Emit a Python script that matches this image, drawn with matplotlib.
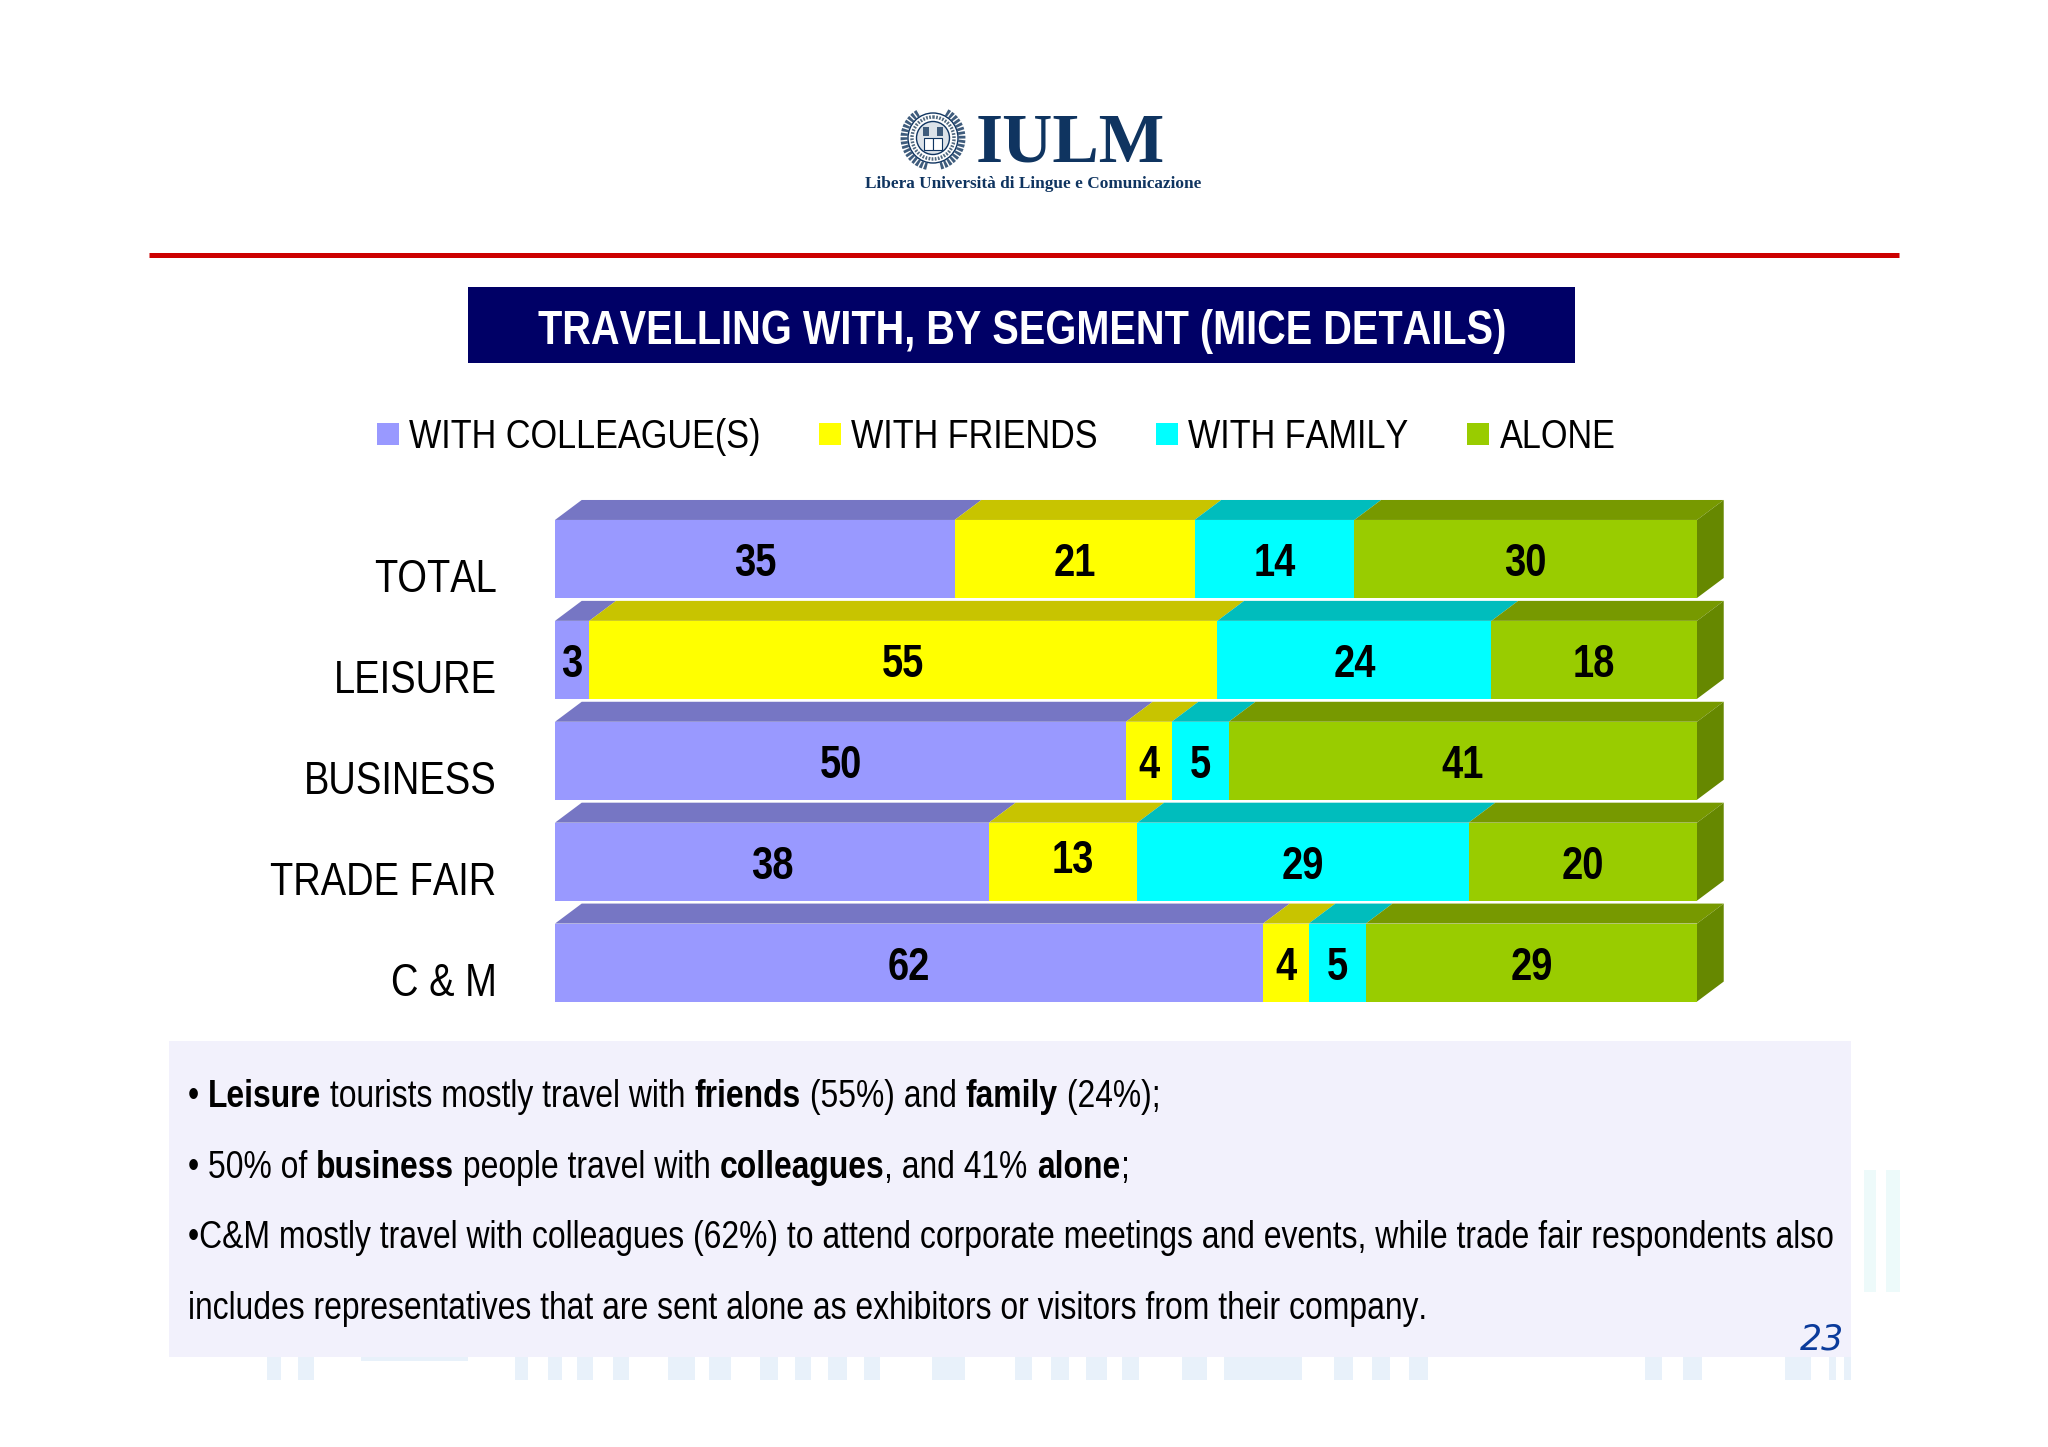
import numpy as np
import matplotlib
matplotlib.use("Agg")
import matplotlib.pyplot as plt
from matplotlib import font_manager as fm
from matplotlib.lines import Line2D
from matplotlib.patches import Arc, Circle, Polygon, Rectangle
from matplotlib.transforms import ScaledTranslation
from fontTools.ttLib import TTFont


# no Arial Narrow here, so squeeze Liberation Sans into a narrow copy
def make_narrow(weight, out, squeeze=0.83):
    path = fm.findfont(fm.FontProperties(family='Liberation Sans', weight=weight))
    font = TTFont(path)
    glyf, hmtx = font['glyf'], font['hmtx']
    for name in font.getGlyphOrder():
        g = glyf[name]
        adv, lsb = hmtx[name]
        if g.isComposite():
            for c in g.components:
                c.x = round(c.x * squeeze)
        elif g.numberOfContours > 0:
            g.coordinates.scale((squeeze, 1))
            g.coordinates.toInt()
            g.program.fromBytecode(b'')
        g.recalcBounds(glyf)
        hmtx[name] = (round(adv * squeeze), round(lsb * squeeze))
    for tag in ('fpgm', 'prep', 'cvt ', 'kern', 'hdmx', 'VDMX', 'LTSH'):
        if tag in font:
            del font[tag]
    for rec in font['name'].names:
        if rec.nameID in (1, 16):
            rec.string = 'Slide Narrow'
        elif rec.nameID == 4:
            rec.string = 'Slide Narrow ' + weight
        elif rec.nameID == 6:
            rec.string = 'SlideNarrow-' + weight
    font.save(out)
    fm.fontManager.addfont(out)


make_narrow('normal', 'narrow_regular.ttf')
make_narrow('bold', 'narrow_bold.ttf')
plt.rcParams['font.family'] = ['Slide Narrow', 'Liberation Sans']

segments = ['TOTAL', 'LEISURE', 'BUSINESS', 'TRADE FAIR', 'C & M']
series_names = ['WITH COLLEAGUE(S)', 'WITH FRIENDS', 'WITH FAMILY', 'ALONE']
colleagues = [35, 3, 50, 38, 62]
friends = [21, 55, 4, 13, 4]
family = [14, 24, 5, 29, 5]
alone = [30, 18, 41, 20, 29]

front_colors = ['#9999FF', '#FFFF00', '#00FFFF', '#99CC00']
top_colors = ['#7676C4', '#C8C400', '#00BDBD', '#779900']
side_color = '#668800'

notes = [
    [('• ', 0), ('Leisure', 1), (' tourists mostly travel with ', 0), ('friends', 1),
     (' (55%) and ', 0), ('family', 1), (' (24%);', 0)],
    [('• 50% of ', 0), ('business', 1), (' people travel with ', 0), ('colleagues', 1),
     (', and 41% ', 0), ('alone', 1), (';', 0)],
    [('•C&M mostly travel with colleagues (62%) to attend corporate meetings and events, '
      'while trade fair respondents also', 0)],
    [('includes representatives that are sent alone as exhibitors or visitors from their company.', 0)],
]
note_y = [1093, 1164, 1234, 1305]

W, H = 2048, 1447
fig = plt.figure(figsize=(W / 100, H / 100), dpi=100, facecolor='white')

# page furniture, drawn in pixel coordinates
bg = fig.add_axes([0, 0, 1, 1])
bg.set_xlim(0, W)
bg.set_ylim(H, 0)
bg.axis('off')

faint_bottom = [(267, 281), (298, 314), (515, 528), (548, 562), (577, 593), (613, 629),
                (668, 695), (709, 731), (760, 778), (795, 811), (828, 847), (864, 880),
                (932, 965), (1015, 1032), (1051, 1069), (1086, 1107), (1122, 1139),
                (1182, 1207), (1224, 1302), (1334, 1353), (1372, 1390), (1409, 1428),
                (1645, 1662), (1683, 1702), (1785, 1811), (1829, 1836), (1844, 1851)]
for x0, x1 in faint_bottom:
    bg.add_patch(Rectangle((x0, 1355), x1 - x0, 25, fc='#E8F1FA', ec='none'))
bg.add_patch(Rectangle((361, 1355), 107, 6, fc='#E8F1FA', ec='none'))
for x0, x1 in [(1864, 1876), (1886, 1900)]:
    bg.add_patch(Rectangle((x0, 1170), x1 - x0, 122, fc='#EDFAFA', ec='none'))

bg.add_patch(Rectangle((169, 1041), 1682, 316, fc='#F2F1FC', ec='none'))
bg.plot([149, 1899], [255, 255], color='#CC0000', lw=3.6, solid_capstyle='butt')
bg.add_patch(Rectangle((468, 287), 1107, 76, fc='#000066', ec='none'))
bg.text(1022, 331, 'TRAVELLING WITH, BY SEGMENT (MICE DETAILS)', color='white',
        fontsize=34.5, fontweight='bold', ha='center', va='center')

# logo
navy = '#0F3460'
bg.text(976, 145, 'IULM', color=navy, fontsize=50, fontweight='bold',
        family='Liberation Serif', ha='left', va='center')
bg.text(1033, 184, 'Libera Università di Lingue e Comunicazione', color=navy, fontsize=12.4,
        fontweight='bold', family='Liberation Serif', ha='center', va='center')
for a0, a1 in [(-62, 78), (102, 242)]:
    bg.add_patch(Arc((933, 138), 58, 58, theta1=a0, theta2=a1, ec='#3F5C7C', lw=5,
                     ls=(0, (0.4, 0.2))))
bg.add_patch(Circle((933, 138), 25, fc='white', ec=navy, lw=1))
bg.add_patch(Circle((933, 138), 21, fc='none', ec='#50687F', lw=2.5, ls=(0, (0.5, 0.4))))
bg.add_patch(Circle((933, 138), 16.5, fc='#DDE3E9', ec=navy, lw=1))
bg.add_patch(Rectangle((924, 138), 9, 12, fc='white', ec=navy, lw=0.8))
bg.add_patch(Rectangle((933, 138), 9, 12, fc='white', ec=navy, lw=0.8))
bg.add_patch(Rectangle((923, 127), 6, 9, fc='#3F5C7C', ec='none'))
bg.add_patch(Rectangle((937, 127), 6, 9, fc='#3F5C7C', ec='none'))

bg.text(1844, 1340, '23', color='#0B3B9B', fontsize=25, style='italic',
        family='DejaVu Sans', ha='right', va='center')

# summary lines, regular and bold runs placed one after the other
renderer = fig.canvas.get_renderer()
for runs, y in zip(notes, note_y):
    x = 188
    for txt, is_bold in runs:
        t = bg.text(x, y, txt, fontsize=27.6, fontweight='bold' if is_bold else 'normal',
                    color='black', ha='left', va='center_baseline')
        # trailing spaces are not measured reliably, so measure up to a marker
        t.set_text(txt + '|')
        with_bar = t.get_window_extent(renderer).width
        t.set_text('|')
        bar = t.get_window_extent(renderer).width
        t.set_text(txt)
        x += with_bar - bar

# stacked bars
ax = fig.add_axes([555 / W, 1 - 1013 / H, 1142 / W, 504.5 / H])
ax.patch.set_visible(False)
values = np.array([colleagues, friends, family, alone], dtype=float)
y_pos = np.arange(len(segments))
bar_h = 0.773
dx, dy = 2.34, 0.198

left = np.zeros(len(segments))
for k, vals in enumerate(values):
    ax.barh(y_pos, vals, left=left, height=bar_h, color=front_colors[k], edgecolor='none')
    for i, v in enumerate(vals):
        top = y_pos[i] - bar_h / 2
        ax.add_patch(Polygon([(left[i], top), (left[i] + dx, top - dy),
                              (left[i] + v + dx, top - dy), (left[i] + v, top)],
                             fc=top_colors[k], ec='none', clip_on=False))
        # the 13 was nudged up and to the right in the original
        nudged = segments[i] == 'TRADE FAIR' and k == 1
        ax.text(left[i] + v / 2 + (0.8 if nudged else 0), y_pos[i] - (0.06 if nudged else 0),
                f'{v:.0f}', fontsize=33, fontweight='bold',
                ha='center', va='center_baseline', color='black')
    left += vals

for y in y_pos:
    top, bottom = y - bar_h / 2, y + bar_h / 2
    ax.add_patch(Polygon([(left[y], top), (left[y] + dx, top - dy),
                          (left[y] + dx, bottom - dy), (left[y], bottom)],
                         fc=side_color, ec='none', clip_on=False))

ax.set_xlim(0, 100)
ax.set_ylim(4.5, -0.5)
for s in ax.spines.values():
    s.set_visible(False)
ax.xaxis.set_visible(False)
ax.set_yticks(y_pos, segments, fontsize=33, color='black')
ax.tick_params(axis='y', length=0, pad=42)
down = ScaledTranslation(0, -16 / 100, fig.dpi_scale_trans)
for lab in ax.get_yticklabels():
    lab.set_transform(lab.get_transform() + down)

handles = [Line2D([], [], ls='', marker='s', ms=16, mew=0, color=c) for c in front_colors]
fig.legend(handles, series_names, loc='center', bbox_to_anchor=(996 / W, 1 - 437 / H),
           ncol=4, frameon=False, fontsize=29.7, handlelength=0.53, handletextpad=0.25,
           columnspacing=1.42, labelcolor='black')

fig.savefig('out.png', dpi=100)
